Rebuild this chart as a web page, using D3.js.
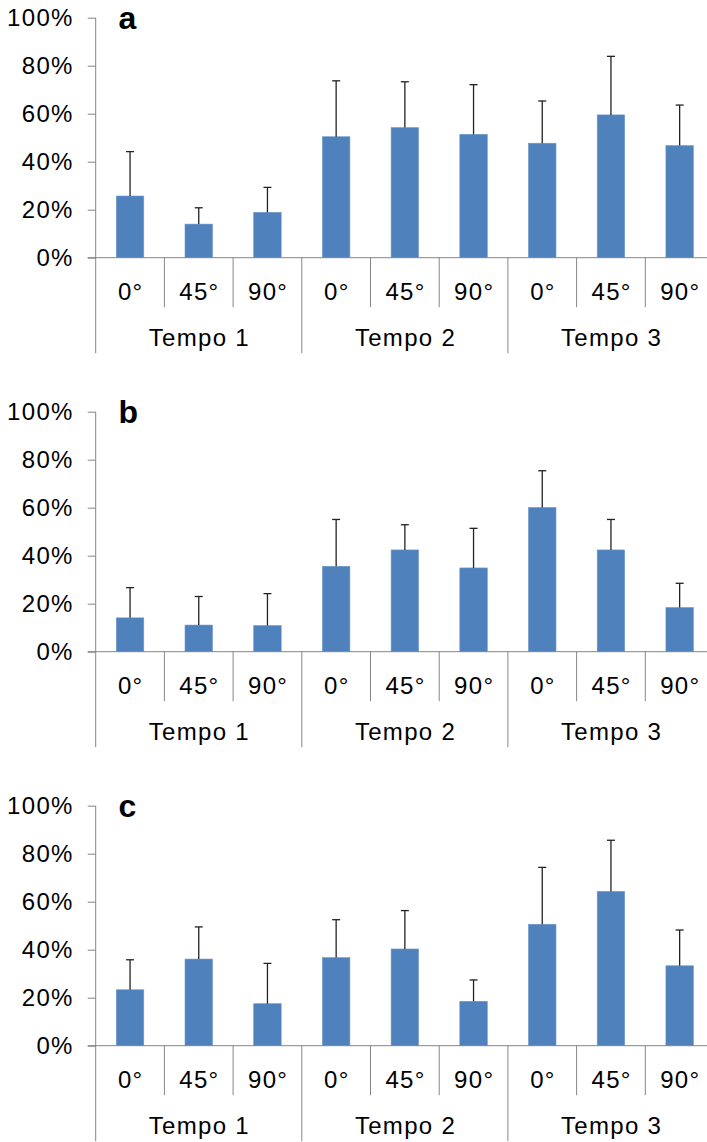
<!DOCTYPE html>
<html>
<head>
<meta charset="utf-8">
<script src="https://cdn.jsdelivr.net/npm/d3@7"></script>
<style>
  html, body { margin: 0; padding: 0; background: #fff; }
  svg { display: block; }
  text { font-family: "Liberation Sans", Arial, sans-serif; fill: #000; }
</style>
</head>
<body>
<svg id="chart" width="707" height="1142"></svg>
<script>
// Groups, angles and panel letters
const tempos = ["Tempo 1", "Tempo 2", "Tempo 3"];
const angles = ["0°", "45°", "90°"];
const panelLetters = ["a", "b", "c"];
const yTicks = [0, 20, 40, 60, 80, 100];

// Mean percentages (Tempo 1 0°/45°/90°, Tempo 2 ..., Tempo 3 ...)
const meansA = [25.7, 14.0, 18.9, 50.4, 54.2, 51.4, 47.7, 59.5, 46.7];
const sdA    = [18.5, 6.8, 10.4, 23.3, 19.1, 20.7, 17.6, 24.4, 16.9];
const meansB = [14.1, 11.1, 10.9, 35.6, 42.4, 34.9, 60.1, 42.4, 18.4];
const sdB    = [12.6, 11.9, 13.3, 19.5, 10.5, 16.5, 15.3, 12.7, 10.1];
const meansC = [23.3, 36.1, 17.5, 36.7, 40.3, 18.5, 50.6, 64.3, 33.3];
const sdC    = [12.5, 13.4, 16.8, 15.8, 16.0, 8.9, 23.7, 21.3, 14.9];

const panelMeans = [meansA, meansB, meansC];
const panelSd = [sdA, sdB, sdC];

// Layout
const plotLeft = 95.7, plotRight = 714;
const plotH = 240;           // 0%..100%
const panelTop = 17.7, panelStep = 394;
const shortSepBottom = 289.5, longSepBottom = 335.5;
const catLabelY = 274, tempoLabelY = 320.3;
const axisColor = "#868686";
const barColor = "#4f81bd";
const ls = 1.3;              // label letter spacing

const keys = [];
tempos.forEach((t, ti) => angles.forEach((a, ai) => keys.push(ti * 3 + ai)));

const x = d3.scaleBand()
  .domain(keys)
  .range([plotLeft, plotRight])
  .paddingInner(0.6)
  .paddingOuter(0.3);
const step = x.step();
const edge = i => plotLeft + i * step;

const y = d3.scaleLinear().domain([0, 100]).range([plotH, 0]);

const svg = d3.select("#chart");
svg.append("rect").attr("width", 707).attr("height", 1142).attr("fill", "#fff");

panelLetters.forEach((letter, p) => {
  const g = svg.append("g").attr("transform", `translate(0,${panelTop + p * panelStep})`);
  const means = panelMeans[p], sds = panelSd[p];
  const rows = keys.map(k => ({ k, mean: means[k], sd: sds[k] }));

  // Y axis ticks and labels
  const yAxis = d3.axisLeft(y)
    .tickValues(yTicks)
    .tickSize(8)
    .tickSizeOuter(0)
    .tickPadding(14)
    .tickFormat(d => d + "%");
  const ya = g.append("g").attr("transform", `translate(${plotLeft},0)`).call(yAxis);
  ya.select(".domain").remove();
  ya.selectAll(".tick line").attr("stroke", axisColor).attr("stroke-width", 1);
  ya.selectAll(".tick text")
    .attr("font-size", 24)
    .attr("letter-spacing", ls)
    .attr("font-family", '"Liberation Sans", Arial, sans-serif')
    .attr("fill", "#000");

  // Vertical axis line running down through the category area
  g.append("line")
    .attr("x1", plotLeft).attr("x2", plotLeft)
    .attr("y1", y(100)).attr("y2", longSepBottom)
    .attr("stroke", axisColor).attr("stroke-width", 1);

  // Bars
  g.selectAll("rect.bar").data(rows).join("rect")
    .attr("class", "bar")
    .attr("x", d => x(d.k))
    .attr("width", x.bandwidth())
    .attr("y", d => y(d.mean))
    .attr("height", d => y(0) - y(d.mean))
    .attr("fill", barColor)
    .attr("stroke", "#6d97cb")
    .attr("stroke-width", 0.6);

  // Upper error bars
  const eb = g.selectAll("g.err").data(rows).join("g").attr("class", "err");
  eb.append("line")
    .attr("x1", d => x(d.k) + x.bandwidth() / 2)
    .attr("x2", d => x(d.k) + x.bandwidth() / 2)
    .attr("y1", d => y(d.mean))
    .attr("y2", d => y(d.mean + d.sd))
    .attr("stroke", "#222").attr("stroke-width", 1.3);
  eb.append("line")
    .attr("x1", d => x(d.k) + x.bandwidth() / 2 - 4)
    .attr("x2", d => x(d.k) + x.bandwidth() / 2 + 4)
    .attr("y1", d => y(d.mean + d.sd))
    .attr("y2", d => y(d.mean + d.sd))
    .attr("stroke", "#222").attr("stroke-width", 1.3);

  // Baseline
  g.append("line")
    .attr("x1", plotLeft - 8).attr("x2", plotRight)
    .attr("y1", y(0)).attr("y2", y(0))
    .attr("stroke", axisColor).attr("stroke-width", 1);

  // Category separators: short between angles, long between tempos
  d3.range(1, keys.length + 1).forEach(i => {
    const long = i % 3 === 0;
    g.append("line")
      .attr("x1", edge(i)).attr("x2", edge(i))
      .attr("y1", y(0)).attr("y2", long ? longSepBottom : shortSepBottom)
      .attr("stroke", axisColor).attr("stroke-width", 1);
  });

  // Angle labels
  g.selectAll("text.cat").data(rows).join("text")
    .attr("class", "cat")
    .attr("x", d => x(d.k) + x.bandwidth() / 2 + ls / 2)
    .attr("y", catLabelY)
    .attr("text-anchor", "middle")
    .attr("dominant-baseline", "central")
    .attr("font-size", 24)
    .attr("letter-spacing", ls)
    .text(d => angles[d.k % 3]);

  // Tempo labels
  g.selectAll("text.tempo").data(tempos).join("text")
    .attr("class", "tempo")
    .attr("x", (d, i) => edge(i * 3) + step * 1.5 + ls / 2)
    .attr("y", tempoLabelY)
    .attr("text-anchor", "middle")
    .attr("dominant-baseline", "central")
    .attr("font-size", 24)
    .attr("letter-spacing", ls)
    .text(d => d);

  // Panel letter
  g.append("text")
    .attr("x", 118.5)
    .attr("y", 11.5)
    .attr("font-size", 32)
    .attr("font-weight", "bold")
    .text(letter);
});
</script>
</body>
</html>
